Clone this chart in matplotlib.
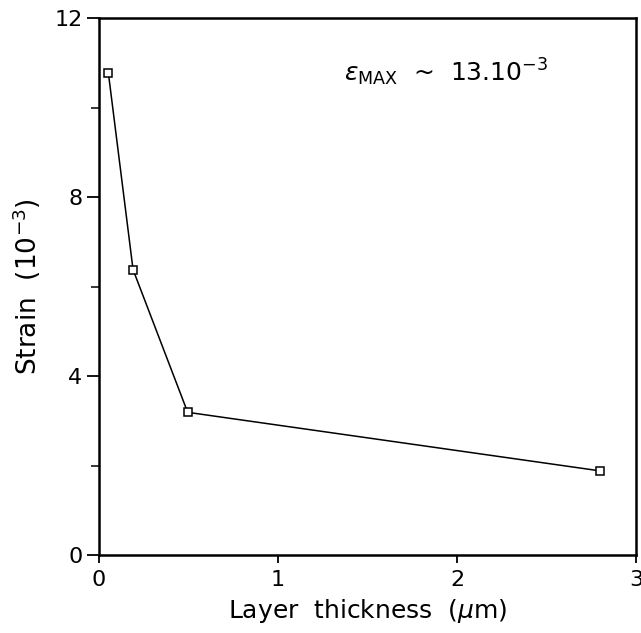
import matplotlib
matplotlib.use("Agg")
import matplotlib.pyplot as plt
from matplotlib.ticker import MultipleLocator

# layer thickness (um) vs strain (1e-3)
thickness = [0.052, 0.19, 0.495, 2.80]
strain = [10.78, 6.38, 3.19, 1.88]

x_ticks = [0, 1, 2, 3]
y_ticks = [0, 4, 8, 12]

plt.rcParams['font.family'] = ['DejaVu Sans']
plt.rcParams['mathtext.fontset'] = 'dejavusans'

fig = plt.figure(figsize=(6.41, 6.33), dpi=100)
ax = fig.add_axes([0.1545, 0.1232, 0.838, 0.848])

ax.plot(thickness, strain, color="black", lw=1.1, marker="s", ms=6,
        mfc="white", mec="black", mew=1.1)

ax.set_xlim(0, 3)
ax.set_ylim(0, 12)
ax.set_xticks(x_ticks)
ax.set_yticks(y_ticks)
ax.yaxis.set_minor_locator(MultipleLocator(2))

for s in ax.spines.values():
    s.set_linewidth(1.8)

ax.tick_params(axis="x", which="major", direction="out", length=6, width=1.3,
               labelsize=16, pad=5)
ax.tick_params(axis="y", which="major", direction="out", length=9, width=1.3,
               labelsize=16, pad=3)
ax.tick_params(axis="y", which="minor", direction="out", length=6, width=1.1)

ax.set_xlabel(r"Layer  thickness  ($\mu$m)", fontsize=18, labelpad=5)
ax.set_ylabel(r"Strain  (10$^{-3}$)", fontsize=19, labelpad=8)

ax.text(1.37, 10.8, r"$\varepsilon_{\mathrm{MAX}}$  ~  13.10$^{-3}$",
        fontsize=18, va="center", ha="left")

fig.savefig("out.png", dpi=100)
